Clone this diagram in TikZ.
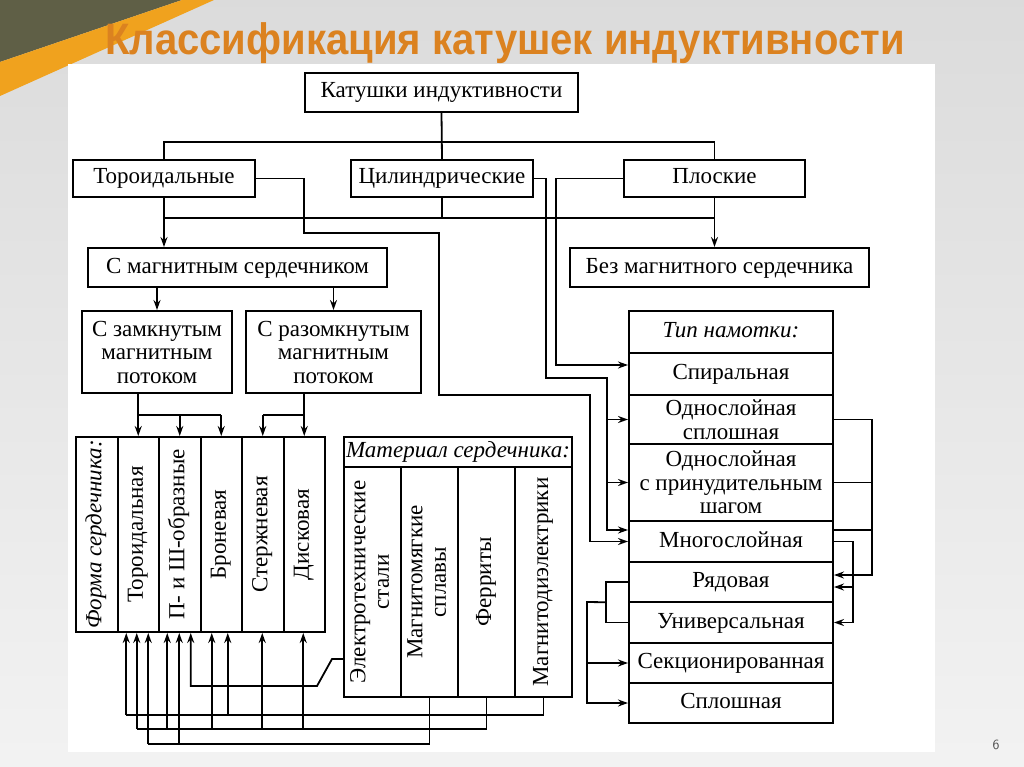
\documentclass[tikz,border=0pt]{standalone}
\usepackage{fontspec}
\usepackage{graphicx}
\setmainfont{Liberation Serif}
\newfontfamily\titlefont{Liberation Sans}[FakeStretch=0.91]
\usetikzlibrary{arrows.meta,calc}
\definecolor{ttl}{HTML}{DB8220}
\definecolor{olive}{HTML}{5F5F46}
\definecolor{stripe}{HTML}{F0A21E}
\newcommand\vlabel[1]{\rotatebox{90}{\begin{tabular}{@{}c@{}}#1\end{tabular}}}

\begin{document}
\begin{tikzpicture}[x=1pt,y=-1pt,
    box/.style={draw,line width=2pt,inner sep=0pt,align=center,
      font=\fontsize{23}{23.5}\selectfont},
    oneline/.style={text height=15.5pt,text depth=4.5pt},
    lnk/.style={line width=1.8pt},
    arr/.style={lnk,-{Stealth[length=10pt,width=7pt]}}]
  \useasboundingbox (0,0) rectangle (1024,767);

  % slide background
  \shade[top color=black!14,bottom color=black!5] (0,0) rectangle (1024,767);
  \fill[olive] (0,0) -- (182,0) -- (0,62) -- cycle;
  \fill[stripe] (182,0) -- (214,0) -- (0,96) -- (0,62) -- cycle;
  \fill[white] (68,64) rectangle (935,752);
  \node[font=\titlefont\bfseries\fontsize{44}{48}\selectfont,text=ttl] (title) at (505,43) {Классификация катушек индуктивности};
  \node[font=\sffamily\fontsize{14}{16}\selectfont,text=black!70] (pnum) at (996,745) {6};

  % top levels
  \node[box,oneline,minimum width=273,minimum height=39] (root) at (441.5,92.5) {Катушки индуктивности};
  \node[box,oneline,minimum width=182,minimum height=37] (tor) at (164,178.5) {Тороидальные};
  \node[box,oneline,minimum width=182,minimum height=37] (cyl) at (442,178.5) {Цилиндрические};
  \node[box,oneline,minimum width=181,minimum height=37] (flat) at (714.5,178.5) {Плоские};
  \node[box,oneline,minimum width=299,minimum height=39] (withcore) at (237.5,267.5) {С магнитным сердечником};
  \node[box,oneline,minimum width=299,minimum height=39] (nocore) at (719.5,267.5) {Без магнитного сердечника};
  \node[box,minimum width=150,minimum height=82] (closed) at (157,352) {С замкнутым\\магнитным\\потоком};
  \node[box,minimum width=175,minimum height=82] (opened) at (333.5,352) {С разомкнутым\\магнитным\\потоком};

  % core shape
  \node[box,minimum width=41.5,minimum height=195] (fs) at (96.75,534.5) {\vlabel{\itshape Форма сердечника:}};
  \node[box,minimum width=41.5,minimum height=195] (c1) at (138.25,534.5) {\vlabel{Тороидальная}};
  \node[box,minimum width=41.5,minimum height=195] (c2) at (179.75,534.5) {\vlabel{П- и Ш-образные}};
  \node[box,minimum width=41.5,minimum height=195] (c3) at (221.25,534.5) {\vlabel{Броневая}};
  \node[box,minimum width=41.5,minimum height=195] (c4) at (262.75,534.5) {\vlabel{Стержневая}};
  \node[box,minimum width=41.5,minimum height=195] (c5) at (304.25,534.5) {\vlabel{Дисковая}};

  % core material
  \node[box,oneline,minimum width=228,minimum height=30] (mhdr) at (458,452) {\itshape Материал сердечника:};
  \node[box,minimum width=57,minimum height=230] (m1) at (372.5,582) {\vlabel{Электротехнические\\стали}};
  \node[box,minimum width=57,minimum height=230] (m2) at (429.5,582) {\vlabel{Магнитомягкие\\сплавы}};
  \node[box,minimum width=57,minimum height=230] (m3) at (486.5,582) {\vlabel{Ферриты}};
  \node[box,minimum width=57,minimum height=230] (m4) at (543.5,582) {\vlabel{Магнитодиэлектрики}};

  % winding type
  \node[box,oneline,minimum width=204,minimum height=42] (whdr) at (731,332) {\itshape Тип намотки:};
  \node[box,oneline,minimum width=204,minimum height=42] (spir) at (731,374) {Спиральная};
  \node[box,minimum width=204,minimum height=49] (one1) at (731,419.5) {Однослойная\\сплошная};
  \node[box,minimum width=204,minimum height=77] (one2) at (731,482.5) {Однослойная\\с принудительным\\шагом};
  \node[box,oneline,minimum width=204,minimum height=41] (mnog) at (731,541.5) {Многослойная};
  \node[box,oneline,minimum width=204,minimum height=40] (ryad) at (731,582) {Рядовая};
  \node[box,oneline,minimum width=204,minimum height=41] (univ) at (731,622.5) {Универсальная};
  \node[box,oneline,minimum width=204,minimum height=40] (sekc) at (731,663) {Секционированная};
  \node[box,oneline,minimum width=204,minimum height=40] (splo) at (731,703) {Сплошная};

  % tree
  \draw[lnk] (root.south) -- (cyl.north);
  \draw[lnk] (tor.north) -- ++(0,-17) -| (flat.north);
  \coordinate (bus2) at (0,218);
  \draw[lnk] (tor.south |- bus2) -- (flat.south |- bus2);
  \draw[lnk] (cyl.south) -- (cyl.south |- bus2);
  \draw[arr] (tor.south) -- (tor.south |- withcore.north);
  \draw[arr] (flat.south) -- (flat.south |- nocore.north);
  \draw[arr] (withcore.south -| closed.north) -- (closed.north);
  \draw[arr] (withcore.south -| opened.north) -- (opened.north);

  % flux -> shape
  \coordinate (bus3) at (0,415);
  \draw[lnk] (closed.south -| c1.north) -- (c1.north |- bus3) -- (c3.north |- bus3);
  \draw[arr] (c1.north |- bus3) -- (c1.north);
  \draw[arr] (c2.north |- bus3) -- (c2.north);
  \draw[arr] (c3.north |- bus3) -- (c3.north);
  \draw[lnk] (opened.south -| c5.north) -- (c5.north |- bus3) -- (c4.north |- bus3);
  \draw[arr] (c4.north |- bus3) -- (c4.north);
  \draw[arr] (c5.north |- bus3) -- (c5.north);

  % coil type -> winding
  \draw[arr] (flat.west) -- ++(-67,0) |- ($(spir.west)+(0,-9)$);
  \coordinate (cylbus) at (607,378);
  \draw[arr] (cyl.east) -- ++(12,0) |- (cylbus) |- ($(mnog.west)+(0,-11.5)$);
  \draw[arr] (cylbus |- one1.west) -- (one1.west);
  \draw[arr] (cylbus |- one2.west) -- (one2.west);
  \coordinate (torbus) at (590,395);
  \draw[arr] (tor.east) -- ++(48,0) -- ++(0,54.5) -- ++(135,0) |- (torbus) |- (mnog.west);

  % winding -> winding
  \coordinate (rb) at (872,0);
  \draw[arr] (one1.east) -- (rb |- one1.east) |- ($(ryad.east)+(0,-7)$);
  \draw[lnk] (one2.east) -- (rb |- one2.east);
  \draw[lnk] ($(mnog.east)+(0,-11.5)$) -- ++(39,0);
  \draw[arr] (mnog.east) -- ++(19,0) |- (univ.east);
  \draw[arr] ($(ryad.east)+(19,5)$) -- ($(ryad.east)+(0,5)$);
  \draw[lnk] (ryad.west) -- ++(-22,0) |- (univ.west);
  \coordinate (lb) at (587,602);
  \draw[arr] ($(ryad.west)!0.5!(univ.west)+(-22,0)$) -- (lb) |- (splo.west);
  \draw[arr] (lb |- sekc.west) -- (sekc.west);

  % material -> shape
  \draw[arr] ($(m1.west)+(0,77)$) -- ++(-11,0) -- ++(-15,27) -| ($(c2.south)+(11,0)$);
  \draw[lnk] (m4.south) |- ($(c1.south)+(-12,82)$);
  \draw[arr] (c1.south) ++(-12,82) -- ++(0,-82);
  \draw[arr] (c3.south) ++(6.5,82) -- ++(0,-82);
  \draw[lnk] (m3.south) |- ($(c1.south)+(-1.5,96)$);
  \draw[arr] (c1.south) ++(-1.5,96) -- ++(0,-96);
  \draw[arr] (c2.south) ++(-12.5,96) -- ++(0,-96);
  \draw[arr] (c3.south) ++(-9.5,96) -- ++(0,-96);
  \draw[arr] (c4.south) ++(-0.5,96) -- ++(0,-96);
  \draw[arr] (c5.south) ++(-1,96) -- ++(0,-96);
  \draw[lnk] (m2.south) |- ($(c1.south)+(10,111)$);
  \draw[arr] (c1.south) ++(10,111) -- ++(0,-111);
  \draw[arr] (c2.south) ++(-0.5,111) -- ++(0,-111);
\end{tikzpicture}
\end{document}
